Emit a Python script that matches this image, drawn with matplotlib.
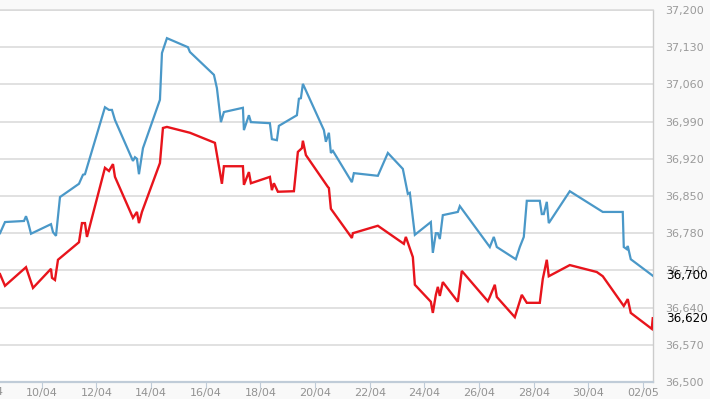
import matplotlib
matplotlib.use("Agg")
import matplotlib.pyplot as plt
import matplotlib.dates as mdates
from matplotlib.ticker import FixedLocator, FuncFormatter
from matplotlib.transforms import blended_transform_factory
import datetime as dt

# ---- data: time as day-of-April (32.x = 2 May), value ----
blue_day = [8.475, 8.658, 9.353, 9.426, 9.499, 9.609, 10.340, 10.413, 10.523, 10.669,
            11.364, 11.510, 11.583, 12.314, 12.461, 12.570, 12.680, 13.338, 13.411, 13.484,
            13.558, 13.704, 14.325, 14.399, 14.581, 15.349, 15.422, 16.300, 16.409, 16.556,
            16.665, 17.360, 17.397, 17.579, 17.653, 18.347, 18.420, 18.603, 18.676, 19.335,
            19.408, 19.481, 19.554, 20.322, 20.395, 20.505, 20.578, 20.651, 21.346, 21.419,
            22.296, 22.662, 23.210, 23.393, 23.466, 23.649, 24.234, 24.307, 24.417, 24.490,
            24.563, 24.672, 25.221, 25.294, 26.391, 26.537, 26.647, 27.342, 27.488, 27.634,
            27.744, 28.219, 28.292, 28.365, 28.475, 28.548, 29.316, 30.523, 31.254, 31.291,
            31.401, 31.437, 31.547, 32.351]
blue_val = [36780, 36801, 36803, 36812, 36801, 36779, 36797, 36782, 36775, 36848,
            36873, 36890, 36891, 37017, 37012, 37012, 36993, 36916, 36923, 36920,
            36891, 36940, 37031, 37119, 37147, 37130, 37121, 37078, 37053, 36989,
            37008, 37016, 36974, 37002, 36989, 36987, 36957, 36955, 36982, 37002,
            37033, 37034, 37061, 36974, 36952, 36969, 36931, 36935, 36876, 36893,
            36888, 36931, 36901, 36854, 36856, 36777, 36801, 36743, 36780, 36780,
            36769, 36814, 36820, 36831, 36754, 36773, 36754, 36731, 36754, 36773,
            36841, 36841, 36816, 36816, 36839, 36799, 36859, 36820, 36820, 36754,
            36750, 36756, 36731, 36700]

red_day = [8.475, 8.658, 9.426, 9.682, 10.340, 10.377, 10.486, 10.596, 11.364, 11.473,
           11.583, 11.656, 12.314, 12.461, 12.607, 12.680, 13.338, 13.484, 13.558, 13.667,
           14.325, 14.435, 14.581, 15.422, 16.336, 16.592, 16.665, 17.360, 17.397, 17.579,
           17.653, 18.347, 18.420, 18.493, 18.640, 19.225, 19.371, 19.518, 19.554, 19.664,
           20.468, 20.505, 20.578, 21.346, 21.382, 22.296, 23.247, 23.320, 23.576, 23.649,
           24.234, 24.307, 24.417, 24.490, 24.563, 24.672, 25.221, 25.367, 26.318, 26.391,
           26.574, 26.647, 27.305, 27.561, 27.744, 28.219, 28.329, 28.475, 28.548, 29.316,
           30.303, 30.523, 31.291, 31.437, 31.547, 32.315, 32.351]
red_val = [36703, 36681, 36716, 36677, 36713, 36696, 36692, 36730, 36763, 36799,
           36799, 36773, 36903, 36897, 36910, 36886, 36809, 36820, 36799, 36820,
           36912, 36978, 36980, 36969, 36950, 36873, 36906, 36906, 36871, 36895,
           36874, 36886, 36861, 36874, 36858, 36859, 36933, 36940, 36954, 36927,
           36867, 36865, 36826, 36771, 36780, 36794, 36760, 36773, 36735, 36683,
           36651, 36630, 36664, 36679, 36662, 36688, 36651, 36709, 36652, 36660,
           36683, 36660, 36622, 36664, 36649, 36649, 36694, 36730, 36699, 36720,
           36707, 36699, 36643, 36656, 36630, 36600, 36620]

y_ticks = [36500, 36570, 36640, 36710, 36780, 36850, 36920, 36990, 37060, 37130, 37200]
x_tick_days = [8, 10, 12, 14, 16, 18, 20, 22, 24, 26, 28, 30, 32]
x_range_days = [8.475, 32.36]

BASE = dt.datetime(2024, 4, 1)
def to_date(d):
    return BASE + dt.timedelta(days=d - 1)

fig = plt.figure(figsize=(7.10, 3.99), dpi=100, facecolor="#f9f9f9")
ax = fig.add_axes([0.0, 17 / 399, 653 / 710, 372 / 399])
ax.set_facecolor("white")

bd = [to_date(d) for d in blue_day]
rd = [to_date(d) for d in red_day]
ax.plot(bd, blue_val, color="#4a98c8", lw=1.6, solid_joinstyle="miter", zorder=3)
ax.plot(rd, red_val, color="#e8141c", lw=1.7, solid_joinstyle="miter", zorder=3)

ax.set_xlim(to_date(x_range_days[0]), to_date(x_range_days[1]))
ax.set_ylim(y_ticks[0], y_ticks[-1])

# y axis on right
ax.yaxis.tick_right()
ax.yaxis.set_major_locator(FixedLocator(y_ticks))
ax.yaxis.set_major_formatter(FuncFormatter(lambda v, p: f"{int(round(v)):,}"))
ax.tick_params(axis="y", length=0, pad=9, labelsize=8, labelcolor="#9a9a9a")
ax.grid(axis="y", color="#d9d9d9", lw=1.1, zorder=1)

# x axis
x_dates = [to_date(d) for d in x_tick_days]
ax.xaxis.set_major_locator(FixedLocator([mdates.date2num(d) for d in x_dates]))
ax.xaxis.set_major_formatter(mdates.DateFormatter("%d/%m"))
ax.tick_params(axis="x", length=4, width=0.8, color="#c0ccd8", pad=0.5,
               labelsize=8, labelcolor="#939393")

# label of the tick left of the visible range (cut by image edge)
trans = blended_transform_factory(ax.transData, ax.transAxes)
ax.text(to_date(x_tick_days[0]), -0.013, to_date(x_tick_days[0]).strftime("%d/%m"),
        transform=trans, ha="center", va="top", fontsize=8, color="#939393", clip_on=False)

ax.spines["left"].set_visible(False)
ax.spines["top"].set_color("#d9d9d9")
ax.spines["top"].set_linewidth(1.1)
ax.spines["right"].set_color("#cccccc")
ax.spines["right"].set_linewidth(1.0)
ax.spines["bottom"].set_color("#c0ccd8")
ax.spines["bottom"].set_linewidth(1.6)

# current value labels
for val in [blue_val[-1], red_val[-1]]:
    ax.annotate(f"{val:,}", xy=(1, val), xycoords=("axes fraction", "data"),
                xytext=(9.2, 0), textcoords="offset points", ha="left", va="center",
                fontsize=8.6, color="black", annotation_clip=False)

fig.savefig("out.png", dpi=100, facecolor=fig.get_facecolor())
